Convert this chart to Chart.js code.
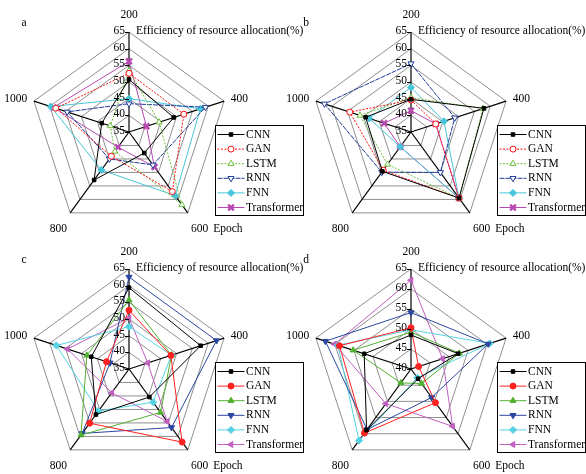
<!DOCTYPE html>
<html>
<head>
<meta charset="utf-8">
<script src="https://cdn.jsdelivr.net/npm/chart.js@4.4.1/dist/chart.umd.min.js"></script>
<style>
  html, body { margin: 0; padding: 0; background: #fff; overflow: hidden; }
  body { width: 586px; height: 474px; position: relative; }
  canvas { position: absolute; }
  #ca { left: 0; top: 0; }
  #cb { left: 282px; top: 0; }
  #cc { left: 0; top: 237px; }
  #cd { left: 282px; top: 237px; }
</style>
</head>
<body>
<canvas id="ca" width="310" height="237"></canvas>
<canvas id="cb" width="310" height="237"></canvas>
<canvas id="cc" width="310" height="237"></canvas>
<canvas id="cd" width="310" height="237"></canvas>
<script>
const epochs = ['200', '400', '600', '800', '1000']
const models = ['CNN', 'GAN', 'LSTM', 'RNN', 'FNN', 'Transformer']
const ticksABC = [35, 40, 45, 50, 55, 60, 65]
const ticksD = [40, 45, 50, 55, 60, 65]

// panel a
const cnnA = [50.8, 49.1, 42.8, 52.8, 43.6]
const ganA = [52.6, 52.3, 57.1, 44.0, 58.1]
const lstmA = [53.4, 44.5, 62.0, 42.2, 40.9]
const rnnA = [43.5, 59.1, 47.2, 45.0, 54.5]
const fnnA = [45.0, 57.5, 58.6, 49.1, 59.7]
const transformerA = [56.2, 40.5, 48.0, 40.6, 58.8]

// panel b
const cnnB = [44.8, 58.0, 59.5, 49.6, 49.3]
const ganB = [44.6, 42.8, 59.5, 49.2, 54.3]
const lstmB = [45.3, 57.7, 59.5, 47.0, 51.1]
const rnnB = [55.5, 48.8, 50.0, 49.9, 62.3]
const fnnB = [48.4, 45.4, 59.5, 40.5, 48.2]
const transformerB = [41.4, 42.8, 59.5, 40.5, 43.5]

// panel c
const cnnC = [59.4, 57.6, 45.4, 51.9, 46.9]
const ganC = [52.6, 48.2, 62.1, 55.1, 42.1]
const lstmC = [55.7, 48.4, 51.1, 59.5, 48.3]
const rnnC = [62.6, 62.6, 56.7, 58.9, 41.0]
const fnnC = [47.7, 48.4, 47.3, 50.6, 57.9]
const transformerC = [50.3, 40.9, 54.5, 43.8, 54.4]

// panel d
const cnnD = [48.5, 52.4, 43.0, 58.9, 52.3]
const ganD = [50.3, 42.0, 50.4, 59.8, 58.8]
const lstmD = [49.2, 52.7, 44.5, 44.3, 55.2]
const rnnD = [54.1, 60.3, 48.8, 58.7, 62.5]
const fnnD = [49.8, 60.7, 42.7, 62.1, 59.2]
const transformerD = [62.2, 48.3, 57.7, 50.7, 60.1]

const FONT = '11.5px "Liberation Serif", "Times New Roman", serif'

// dotted lines with open markers (a, b)
const openLook = [
  { color: '#000000', dash: [], point: 'rect', fill: '#000000', r: 2.5 },
  { color: '#ff1010', dash: [2, 1.5], point: 'circle', fill: '#ffffff', r: 3 },
  { color: '#6cbf3c', dash: [2, 1.5], point: 'triangle', fill: '#ffffff', r: 3.5 },
  { color: '#1f3a9a', dash: [5, 1], point: 'triangle', rot: 180, fill: '#ffffff', r: 3.5 },
  { color: '#46c6d8', dash: [], point: 'rectRot', fill: '#46c6d8', r: 3.5 },
  { color: '#b648b0', dash: [], point: 'crossRot', fill: '#b648b0', r: 4, bw: 2.5 }
]

// solid lines with filled markers (c, d)
const solidLook = [
  { color: '#000000', dash: [], point: 'rect', fill: '#000000', r: 2.5 },
  { color: '#ff2020', dash: [], point: 'circle', fill: '#ff2020', r: 3 },
  { color: '#52b032', dash: [], point: 'triangle', fill: '#52b032', r: 3.5 },
  { color: '#2c46a0', dash: [], point: 'triangle', rot: 180, fill: '#2c46a0', r: 3.5 },
  { color: '#55d2e2', dash: [], point: 'rectRot', fill: '#55d2e2', r: 3.5 },
  { color: '#c060c0', dash: [], point: 'triangle', rot: 270, fill: '#c060c0', r: 3.5 }
]

function makeSets( values, look ) {
  return models.map( ( m, i ) => {
    const s = look[ i ]
    return {
      label: m,
      data: values[ i ],
      borderColor: s.color,
      borderWidth: 1,
      borderDash: s.dash,
      fill: false,
      tension: 0,
      pointStyle: s.point,
      pointRotation: s.rot || 0,
      pointRadius: s.r,
      pointBackgroundColor: s.fill,
      pointBorderColor: s.color,
      pointBorderWidth: s.bw || 1
    }
  } )
}

function drawMarker( ctx, ds, x, y ) {
  ctx.save()
  ctx.fillStyle = ds.pointBackgroundColor
  ctx.strokeStyle = ds.pointBorderColor
  ctx.lineWidth = ds.pointBorderWidth
  ctx.setLineDash( [] )
  const opts = { pointStyle: ds.pointStyle, rotation: ds.pointRotation, radius: ds.pointRadius, borderWidth: ds.pointBorderWidth }
  if ( Chart.helpers && Chart.helpers.drawPoint ) {
    Chart.helpers.drawPoint( ctx, opts, x, y )
  } else {
    ctx.beginPath(); ctx.arc( x, y, ds.pointRadius, 0, Math.PI * 2 ); ctx.fill(); ctx.stroke()
  }
  ctx.restore()
}

const panelText = {
  id: 'panelText',
  afterDraw( chart, args, opts ) {
    const ctx = chart.ctx
    const sc = chart.scales.r
    const xc = sc.xCenter, yc = sc.yCenter, R = sc.drawingArea
    ctx.save()
    ctx.font = FONT
    ctx.fillStyle = '#000'
    ctx.strokeStyle = '#000'
    ctx.lineWidth = 1

    // value ticks on the top spoke
    ctx.textAlign = 'right'
    ctx.textBaseline = 'middle'
    opts.ticks.forEach( v => {
      const y = Math.round( yc - sc.getDistanceFromCenterForValue( v ) ) + 0.5
      ctx.beginPath(); ctx.moveTo( xc - 4, y ); ctx.lineTo( xc, y ); ctx.stroke()
      ctx.fillText( String( v ), xc - 4, y - 1.5 )
    } )

    // epoch labels
    const gaps = [ 17, 7, 20, 20, 7 ]
    const aligns = [ 'center', 'left', 'center', 'center', 'right' ]
    let p600 = null
    epochs.forEach( ( lab, i ) => {
      const p = sc.getPointPosition( i, R + gaps[ i ] )
      ctx.textAlign = aligns[ i ]
      ctx.fillText( lab, p.x, p.y )
      if ( i === 2 ) p600 = p
    } )
    ctx.textAlign = 'left'
    ctx.fillText( 'Epoch', p600.x + ctx.measureText( '600' ).width / 2 + 5, p600.y )

    // axis title and panel letter
    ctx.fillText( 'Efficiency of resource allocation(%)', xc + 7, yc - R - 1 )
    ctx.textAlign = 'center'
    ctx.fillText( opts.letter, xc - 105, yc - R - 9 )

    // legend box
    const bx = xc + 86.5, by = yc - 6.5, bw = 88, bh = 90
    ctx.fillStyle = '#fff'
    ctx.fillRect( bx, by, bw, bh )
    ctx.strokeStyle = '#000'
    ctx.strokeRect( bx, by, bw, bh )
    chart.data.datasets.forEach( ( ds, i ) => {
      const y = yc + 2.5 + i * 14.6
      ctx.save()
      ctx.strokeStyle = ds.borderColor
      ctx.lineWidth = 1
      ctx.setLineDash( ds.borderDash )
      ctx.beginPath(); ctx.moveTo( bx + 2, y ); ctx.lineTo( bx + 29, y ); ctx.stroke()
      ctx.restore()
      drawMarker( ctx, ds, bx + 15.5, y )
      ctx.fillStyle = '#000'
      ctx.textAlign = 'left'
      ctx.fillText( ds.label, bx + 30.5, y )
    } )
    ctx.restore()
  }
}

function radar( id, letter, values, look, min, tickList ) {
  return new Chart( document.getElementById( id ), {
    type: 'radar',
    data: { labels: epochs, datasets: makeSets( values, look ) },
    options: {
      responsive: false,
      animation: false,
      layout: { padding: { left: 29, right: 81, top: 32, bottom: 5 } },
      plugins: {
        legend: { display: false },
        tooltip: { enabled: false },
        panelText: { letter: letter, ticks: tickList }
      },
      scales: {
        r: {
          min: min,
          max: 65,
          ticks: { display: false, stepSize: 5 },
          pointLabels: { display: false },
          grid: { circular: false, color: '#8f8f8f', lineWidth: 1 },
          angleLines: { color: '#000', lineWidth: 1.2 }
        }
      }
    },
    plugins: [ panelText ]
  } )
}

radar( 'ca', 'a', [ cnnA, ganA, lstmA, rnnA, fnnA, transformerA ], openLook, 35, ticksABC )
radar( 'cb', 'b', [ cnnB, ganB, lstmB, rnnB, fnnB, transformerB ], openLook, 35, ticksABC )
radar( 'cc', 'c', [ cnnC, ganC, lstmC, rnnC, fnnC, transformerC ], solidLook, 35, ticksABC )
radar( 'cd', 'd', [ cnnD, ganD, lstmD, rnnD, fnnD, transformerD ], solidLook, 40, ticksD )
</script>
</body>
</html>
